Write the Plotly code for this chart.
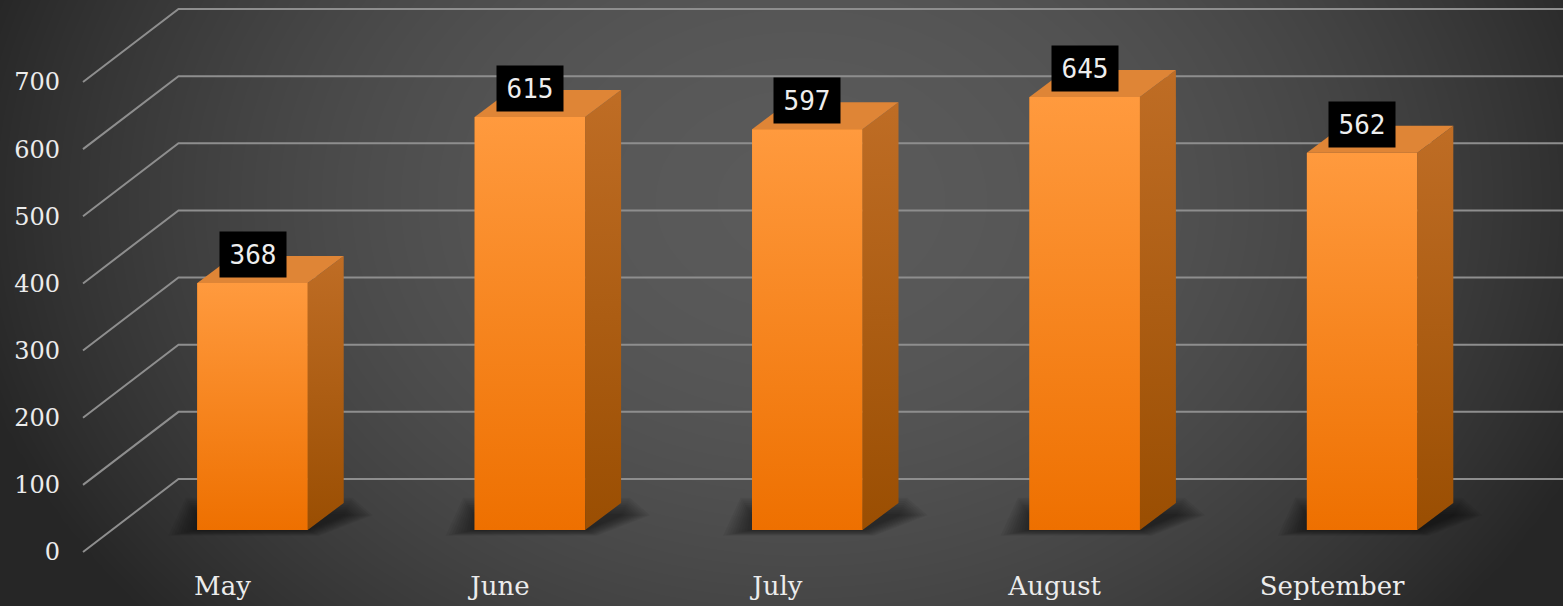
import numpy as np
import plotly.graph_objects as go

# ---------------- data ----------------
months = ["May", "June", "July", "August", "September"]
values = [368, 615, 597, 645, 562]
tick_values = [0, 100, 200, 300, 400, 500, 600, 700]
tick_labels = [str(t) for t in tick_values]

# ---------------- geometry (pixel-based projection) ----------------
W, H = 1563, 606
PX_PER_CAT = 277.4
FIRST_CENTER_PX = 252.5
PX_PER_UNIT = 0.6714
FLOOR_PX = 530.0

x0 = -FIRST_CENTER_PX / PX_PER_CAT
x1 = x0 + W / PX_PER_CAT
y_lo = (FLOOR_PX - H) / PX_PER_UNIT
y_hi = FLOOR_PX / PX_PER_UNIT


def dxu(px):
    return px / PX_PER_CAT


def dyu(px):
    return px / PX_PER_UNIT


BAR_W = 0.398
DEPTH_X = dxu(36)
DEPTH_Y = dyu(27)
BACK_SHIFT_Y = dyu(51)
BACK_LEFT_X = x0 + dxu(178.5)
FRONT_LEFT_X = x0 + dxu(83)
LABEL_SHIFT_Y = -dyu(22)

GRID_COLOR = "#8e8e8e"
TEXT_COLOR = "#ececec"

fig = go.Figure()

# ---------------- background (radial gradient) ----------------
gx = np.linspace(0, W, 140)
gy = np.linspace(0, H, 60)
GX, GY = np.meshgrid(gx, gy)
r = np.sqrt(((GX - 800) / 850.0) ** 2 + ((GY - 200) / 650.0) ** 2)
zbg = 1 - np.clip(r, 0, 1) ** 2
fig.add_trace(go.Heatmap(
    x=gx, y=gy, z=zbg, zmin=0, zmax=1, zsmooth="best",
    colorscale=[[0, "#262626"], [1, "#5a5a5a"]], showscale=False,
    hoverinfo="skip", xaxis="x", yaxis="y"))

# ---------------- bars (front faces) ----------------
xs = list(range(len(months)))
fig.add_trace(go.Bar(
    x=xs, y=values, width=BAR_W, marker=dict(color="#F58418", line=dict(width=0)),
    xaxis="x2", yaxis="y2", hoverinfo="skip", showlegend=False))

for i, v in enumerate(values):
    xl, xr = i - BAR_W / 2, i + BAR_W / 2
    # front gradient
    fig.add_trace(go.Scatter(
        x=[xl, xr, xr, xl, xl], y=[0, 0, v, v, 0], mode="lines",
        line=dict(width=0), fill="toself",
        fillgradient=dict(type="vertical", colorscale=[[0, "#EE7000"], [1, "#FF9A3E"]],
                          start=0, stop=v),
        xaxis="x2", yaxis="y2", hoverinfo="skip", showlegend=False))
    # side face
    fig.add_trace(go.Scatter(
        x=[xr, xr + DEPTH_X, xr + DEPTH_X, xr, xr],
        y=[0, DEPTH_Y, v + DEPTH_Y, v, 0], mode="lines",
        line=dict(width=0), fill="toself",
        fillgradient=dict(type="vertical", colorscale=[[0, "#9A4E02"], [1, "#BF6D25"]],
                          start=0, stop=v + DEPTH_Y),
        xaxis="x2", yaxis="y2", hoverinfo="skip", showlegend=False))
    # top face
    fig.add_trace(go.Scatter(
        x=[xl, xr, xr + DEPTH_X, xl + DEPTH_X, xl],
        y=[v, v, v + DEPTH_Y, v + DEPTH_Y, v], mode="lines",
        line=dict(width=0), fill="toself", fillcolor="#DF8536",
        xaxis="x2", yaxis="y2", hoverinfo="skip", showlegend=False))

# ---------------- gridlines (back wall + diagonals) and shadows ----------------
shapes = []
for t in tick_values:
    yb = t + BACK_SHIFT_Y
    yf = t + LABEL_SHIFT_Y
    shapes.append(dict(
        type="path", xref="x2", yref="y2", layer="between",
        path=f"M {FRONT_LEFT_X} {yf} L {BACK_LEFT_X} {yb} L {x1 + 0.1} {yb}",
        line=dict(color=GRID_COLOR, width=2)))

for i, v in enumerate(values):
    xl, xr = i - BAR_W / 2, i + BAR_W / 2
    for k, e in enumerate((2, 5, 8, 11, 14, 17, 20, 23, 26, 29)):
        ex = dxu(e)
        ey_lo = dyu(e * 0.2)
        ey_hi = dyu(e * 0.6)
        top = DEPTH_Y * 0.55
        p = (f"M {xl - ex} {-ey_lo} L {xr + ex * 0.4} {-ey_lo} "
             f"L {xr + DEPTH_X + ex} {top} "
             f"L {xr + DEPTH_X + ex * 0.3} {top + ey_hi} "
             f"L {xl - ex * 0.4} {top + ey_hi} Z")
        shapes.append(dict(type="path", xref="x2", yref="y2", layer="between",
                           path=p, fillcolor="rgba(0,0,0,0.055)", line=dict(width=0)))

# ---------------- data labels ----------------
annotations = []
for i, v in enumerate(values):
    annotations.append(dict(
        x=i, y=v, xref="x2", yref="y2", text=str(v), showarrow=False,
        yshift=28.5, width=64, height=43, bgcolor="#000000",
        font=dict(family="DejaVu Sans Mono, monospace", size=26, color="#eeeeee")))

fig.update_layout(
    width=W, height=H, margin=dict(l=0, r=0, t=0, b=0),
    paper_bgcolor="#2b2b2b", plot_bgcolor="rgba(0,0,0,0)",
    showlegend=False, shapes=shapes, annotations=annotations,
    xaxis=dict(domain=[0, 1], range=[0, W], visible=False, fixedrange=True),
    yaxis=dict(domain=[0, 1], range=[H, 0], visible=False, fixedrange=True),
    xaxis2=dict(domain=[0, 1], range=[x0, x1], anchor="y2",
                tickvals=xs, ticktext=months, ticks="", showgrid=False,
                zeroline=False, showline=False, ticklabelposition="inside",
                ticklabelshift=-30, ticklabelstandoff=3,
                tickfont=dict(family="DejaVu Serif", size=26, color=TEXT_COLOR)),
    yaxis2=dict(domain=[0, 1], range=[y_lo, y_hi], anchor="free", position=60 / W,
                tickvals=tick_values, ticktext=tick_labels, ticks="", showgrid=False,
                zeroline=False, showline=False, ticklabelshift=22,
                tickfont=dict(family="DejaVu Serif", size=24, color=TEXT_COLOR)),
)

fig.write_html("out.html")
